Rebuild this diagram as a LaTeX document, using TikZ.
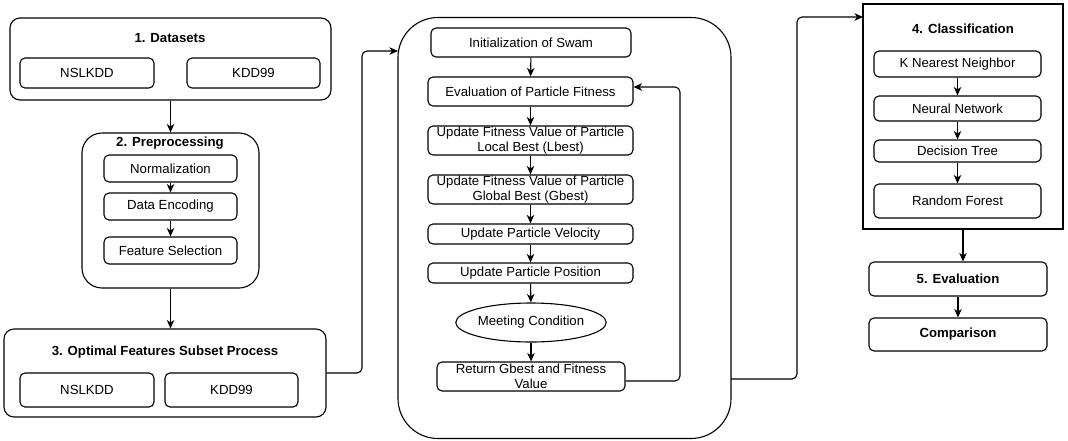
\documentclass[tikz,border=0pt]{standalone}
\usepackage{fontspec}
\setmainfont{Liberation Sans}
\usetikzlibrary{arrows.meta,shapes.geometric,calc}
\begin{document}
\begin{tikzpicture}[x=1pt,y=-1pt,
  every node/.style={font=\fontsize{13.2}{15.5}\selectfont},
  sbox/.style={draw,rounded corners=5pt,line width=1.1pt,inner sep=0pt,align=center,fill=white},
  obox/.style={draw,line width=1.1pt,inner sep=0pt},
  ttl/.style={font=\fontsize{13.2}{15.5}\selectfont\bfseries,inner sep=0pt},
  arr/.style={-{Stealth[length=8.5pt,width=7.5pt,inset=2.5pt]},line width=1.1pt},
  conn/.style={arr,rounded corners=5pt}]
\useasboundingbox (0,0) rectangle (1068,440);
% --- outer containers
\node[obox,rounded corners=10pt,minimum width=321,minimum height=82] (b1) at (170.5,59) {};
\node[obox,rounded corners=20pt,minimum width=177,minimum height=155] (b2) at (170.5,210.5) {};
\node[obox,rounded corners=10pt,minimum width=322,minimum height=88] (b3) at (165,373) {};
\node[obox,rounded corners=40pt,minimum width=333,minimum height=421] (b4) at (564.5,228) {};
\node[obox,minimum width=200,minimum height=225] (b5) at (963,116.5) {};
% --- titles
\node[ttl] (t1) at (170,38) {1. Datasets};
\node[ttl] (t2) at (170,143) {2. Preprocessing};
\node[ttl] (t3) at (165,352) {3. Optimal Features Subset Process};
\node[ttl] (t5) at (963,29) {4. Classification};
% --- datasets
\node[sbox,minimum width=134,minimum height=30] (d1) at (87,73) {NSLKDD};
\node[sbox,minimum width=133,minimum height=30] (d2) at (253.5,73) {KDD99};
% --- preprocessing
\node[sbox,minimum width=133,minimum height=27] (p1) at (170.5,168.5) {Normalization};
\node[sbox,minimum width=133,minimum height=27] (p2) at (170.5,206.5) {Data Encoding};
\node[sbox,minimum width=133,minimum height=27] (p3) at (170.5,250.5) {Feature Selection};
% --- optimal subset
\node[sbox,minimum width=134,minimum height=34] (o1) at (87,390) {NSLKDD};
\node[sbox,minimum width=133,minimum height=34] (o2) at (231.5,390) {KDD99};
% --- PSO
\node[sbox,minimum width=200,minimum height=29] (s1) at (531,42.5) {Initialization of Swam};
\node[sbox,minimum width=205,minimum height=29] (s2) at (530.5,91.5) {Evaluation of Particle Fitness};
\node[sbox,minimum width=205,minimum height=29] (s3) at (530.5,140.5) {Update Fitness Value of Particle\\Local Best (Lbest)};
\node[sbox,minimum width=205,minimum height=29] (s4) at (530.5,189.5) {Update Fitness Value of Particle\\Global Best (Gbest)};
\node[sbox,minimum width=205,minimum height=20] (s5) at (530.5,234) {Update Particle Velocity};
\node[sbox,minimum width=205,minimum height=20] (s6) at (530.5,273) {Update Particle Position};
\node[draw,ellipse,line width=1.1pt,inner sep=0pt,minimum width=134,minimum height=39] (s7) at (531,322.5) {Meeting Condition};
\node[sbox,minimum width=188,minimum height=29] (s8) at (531,376.5) {Return Gbest and Fitness\\Value};
% --- classification
\node[sbox,minimum width=167,minimum height=26] (c1) at (957.5,64) {K Nearest Neighbor};
\node[sbox,minimum width=167,minimum height=25] (c2) at (957.5,108.5) {Neural Network};
\node[sbox,minimum width=167,minimum height=22] (c3) at (957.5,151) {Decision Tree};
\node[sbox,minimum width=167,minimum height=34] (c4) at (957.5,201) {Random Forest};
\node[sbox,minimum width=178,minimum height=34] (e1) at (958,279) {\bfseries 5. Evaluation};
\node[sbox,minimum width=178,minimum height=33] (e2) at (958,334.5) {\bfseries Comparison};
% --- vertical flow
\draw[arr] (b1.south) -- (b2.north);
\draw[arr] (b2.south) -- (b2.south |- b3.north);
\draw[arr] (p1) -- (p2);
\draw[arr] (p2) -- (p3);
\draw[arr] (s1) -- (s2);
\draw[arr] (s2) -- (s3);
\draw[arr] (s3) -- (s4);
\draw[arr] (s4) -- (s5);
\draw[arr] (s5) -- (s6);
\draw[arr] (s6) -- (s7);
\draw[arr] (s7) -- (s8);
\draw[arr] (c1) -- (c2);
\draw[arr] (c2) -- (c3);
\draw[arr] (c3) -- (c4);
\draw[arr] (b5.south) -- (b5.south |- e1.north);
\draw[arr] (e1) -- (e2);
% --- side connectors
\coordinate (in4) at (398,51);
\draw[conn] (b3.east) -- (362,373) -- (362,51) -- (in4);
\coordinate (fb) at ([yshift=4.5pt]s2.east);
\draw[conn] ([yshift=-4.5pt]s8.east) -- (680,381) -- (680,87) -- (fb);
\coordinate (out4) at (731,379);
\coordinate (in5) at (863,17);
\draw[conn] (out4) -- (797,379) -- (797,17) -- (in5);
\end{tikzpicture}
\end{document}
